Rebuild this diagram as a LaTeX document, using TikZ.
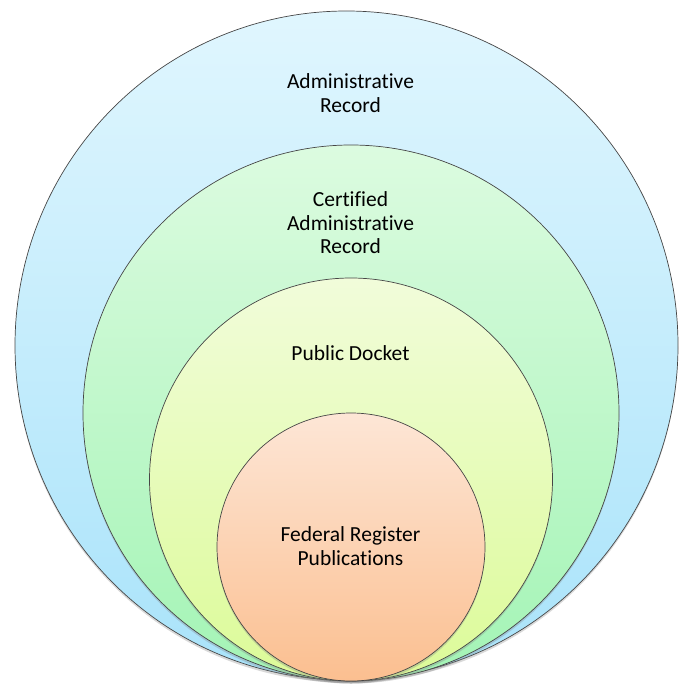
\documentclass[tikz,border=0pt]{standalone}
\usepackage{fontspec}
\setmainfont{Carlito}[Ligatures=NoCommon]
\usetikzlibrary{shapes.geometric,shadows}
\definecolor{bluetop}{RGB}{224,246,254}
\definecolor{bluebot}{RGB}{169,227,250}
\definecolor{greentop}{RGB}{220,251,224}
\definecolor{greenbot}{RGB}{163,244,181}
\definecolor{yellowtop}{RGB}{241,252,218}
\definecolor{yellowbot}{RGB}{220,251,152}
\definecolor{orangetop}{RGB}{253,230,214}
\definecolor{orangebot}{RGB}{251,191,144}
\definecolor{rim}{RGB}{70,70,70}
\begin{document}
\begin{tikzpicture}[x=1pt,y=-1pt]

    \tikzset{
      ring/.style={
        draw=rim,
        line width=0.7pt,
        inner sep=0pt,
        drop shadow={opacity=0.3,shadow xshift=0pt,shadow yshift=-2.5pt},
      },
      label/.style={
        inner sep=0pt,
        align=center,
        font=\fontsize{21.5}{23.4}\selectfont,
      },
    }
    \useasboundingbox (0,0) rectangle (679,685);

    \node[ring,ellipse,minimum width=663pt,minimum height=669pt,
      top color=bluetop,bottom color=bluebot] (record) at (346.5,345.5) {};
    \node[ring,circle,minimum size=536pt,
      top color=greentop,bottom color=greenbot] (certified) at (351,413) {};
    \node[ring,circle,minimum size=403pt,
      top color=yellowtop,bottom color=yellowbot] (docket) at (351,479.5) {};
    \node[ring,circle,minimum size=268pt,
      top color=orangetop,bottom color=orangebot] (fedreg) at (351,547) {};

	\node[label] (recordlbl) at (350.5,93) {Administrative\\Record};
	\node[label] (certifiedlbl) at (350.5,223) {Certified\\Administrative\\Record};
	\node[label] (docketlbl) at (350.5,353) {Public Docket};
	\node[label] (fedreglbl) at (350.5,546) {Federal Register\\Publications};

\end{tikzpicture}
\end{document}
